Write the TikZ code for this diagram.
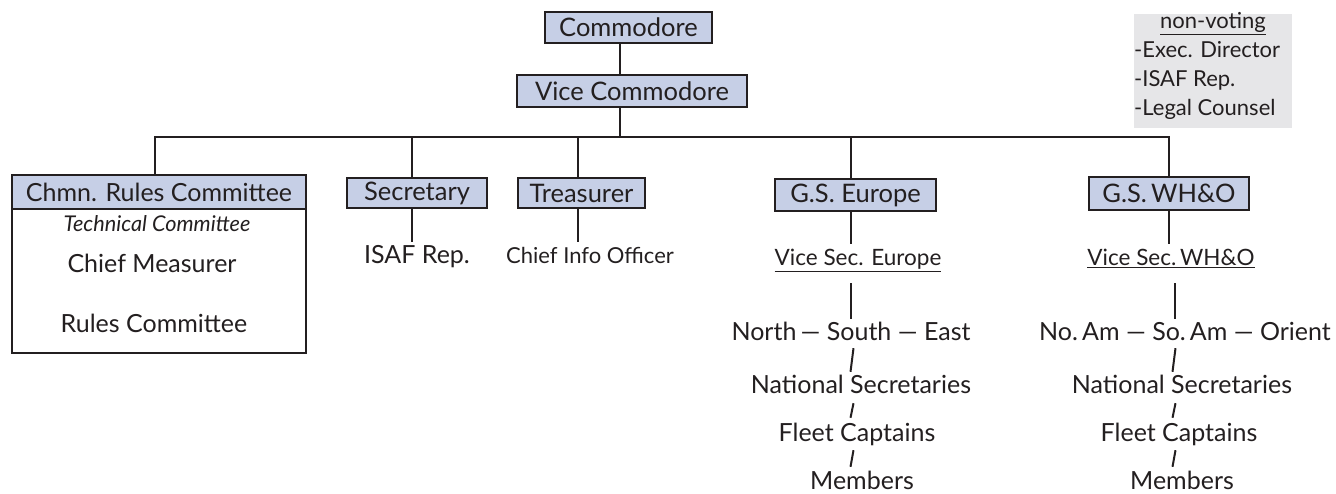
\documentclass[tikz,border=0pt]{standalone}
\usepackage{fontspec}
\setmainfont{Lato}
\usetikzlibrary{calc}
\definecolor{boxblue}{RGB}{198,207,230}
\definecolor{nvgray}{RGB}{230,230,232}
\definecolor{ink}{RGB}{35,31,32}
\tikzset{
  ob/.style={draw=ink, fill=boxblue, line width=2.6pt, inner sep=0pt, text=ink,
    font=\fontsize{25.5}{30}\selectfont},
  txt/.style={inner xsep=1pt, inner ysep=5pt, text height=17pt, text depth=5pt, text=ink,
    font=\fontsize{25}{30}\selectfont},
  nvt/.style={inner sep=0pt, text height=16pt, text depth=5pt, text=ink,
    font=\fontsize{22}{26}\selectfont},
  conn/.style={draw=ink, line width=2.4pt},
  slash/.style={draw=ink, line width=2pt},
}
\begin{document}
\begin{tikzpicture}[x=1pt,y=-1pt]
\useasboundingbox (0,0) rectangle (1336,494);

% non-voting box
\node[fill=nvgray, minimum width=158pt, minimum height=114pt, inner sep=0pt] (nvbox) at (1213,71) {};
\node[nvt] (nv0) at (1213,23) {\underline{non-voting}};
\node[nvt, anchor=west] (nv1) at (1134,52) {-Exec. Director};
\node[nvt, anchor=west] (nv2) at (1134,81) {-ISAF Rep.};
\node[nvt, anchor=west] (nv3) at (1134,110) {-Legal Counsel};

% top boxes
\node[ob, minimum width=167pt, minimum height=31pt] (comm) at (628.5,27.5) {Commodore};
\node[ob, minimum width=230pt, minimum height=32pt] (vice) at (632,91) {Vice Commodore};

\coordinate (cx) at (620,0);
\coordinate (busL) at (155,137);
\coordinate (busR) at (1169,137);
\coordinate (dsec) at (412,137);
\coordinate (dtre) at (578,137);
\coordinate (dgse) at (851,137);

\draw[conn] (comm.south -| cx) -- (vice.north -| cx);
\draw[conn] (vice.south -| cx) -- (cx |- busL);
\draw[conn, line cap=rect] (busL) -- (busR);

% Chairman rules committee
\node[draw=ink, line width=2.6pt, minimum width=294pt, minimum height=178pt, inner sep=0pt] (chout) at (159,264) {};
\node[ob, minimum width=294pt, minimum height=34pt, font=\fontsize{25}{30}\selectfont] (chmn) at (159,192) {Chmn. Rules Committee};
\node[txt, font=\fontsize{21.7}{26}\selectfont\itshape] (tech) at (157,226) {Technical Committee};
\node[txt] (meas) at (152,267) {Chief Measurer};
\node[txt] (rules) at (154,327) {Rules Committee};
\draw[conn] (busL) -- (chmn.north -| busL);

% Secretary
\node[ob, minimum width=140pt, minimum height=30pt] (sec) at (417,193) {Secretary};
\draw[conn] (dsec) -- (sec.north -| dsec);
\node[txt] (isaf) at (417,258) {ISAF Rep.};
\draw[conn] (sec.south -| dsec) -- (isaf.north -| dsec);

% Treasurer
\node[ob, minimum width=127pt, minimum height=30pt] (tre) at (581.5,193) {Treasurer};
\draw[conn] (dtre) -- (tre.north -| dtre);
\node[txt, font=\fontsize{22}{26}\selectfont] (cio) at (590,258) {Chief Info Officer};
\draw[conn] (tre.south -| dtre) -- (cio.north -| dtre);

% G.S. Europe
\node[ob, minimum width=161pt, minimum height=32pt] (gse) at (855.5,195) {G.S. Europe};
\draw[conn] (dgse) -- (gse.north -| dgse);
\node[txt, font=\fontsize{22.5}{27}\selectfont] (vse) at (858,260) {\underline{Vice Sec. Europe}};
\draw[conn] (gse.south -| dgse) -- (vse.north -| dgse);
\node[txt] (erow) at (851,335) {North\,— South — East};
\draw[conn, shorten <=7pt] (vse.south -| dgse) -- (erow.north -| dgse);
\node[txt] (enat) at (861,387) {National Secretaries};
\node[txt] (efleet) at (857,435) {Fleet Captains};
\node[txt] (emem) at (862,483) {Members};
\coordinate (es) at (852,0);
\draw[slash] ($(erow.south -| es)+(1.5,-3)$) -- ($(enat.north -| es)+(-1.5,1)$);
\draw[slash] ($(enat.south -| es)+(1.5,0)$) -- ($(efleet.north -| es)+(-1.5,-1)$);
\draw[slash] ($(efleet.south -| es)+(1.5,-1)$) -- ($(emem.north -| es)+(-1.5,0)$);

% G.S. WH&O
\node[ob, minimum width=160pt, minimum height=33pt] (gsw) at (1169,193.5) {G.S.\,WH\&O};
\draw[conn] (busR) -- (gsw.north -| busR);
\node[txt, font=\fontsize{22.5}{27}\selectfont] (vsw) at (1171,260) {\underline{Vice Sec.\,WH\&O}};
\draw[conn] (gsw.south -| busR) -- (vsw.north -| busR);
\coordinate (wl) at (1175,0);
\node[txt] (wrow) at (1185,335) {No.\,Am — So.\,Am — Orient};
\draw[conn, shorten <=7pt] (vsw.south -| wl) -- (wrow.north -| wl);
\node[txt] (wnat) at (1182,387) {National Secretaries};
\node[txt] (wfleet) at (1179,435) {Fleet Captains};
\node[txt] (wmem) at (1182,483) {Members};
\coordinate (ws) at (1174,0);
\draw[slash] ($(wrow.south -| ws)+(1.5,-3)$) -- ($(wnat.north -| ws)+(-1.5,1)$);
\draw[slash] ($(wnat.south -| ws)+(1.5,0)$) -- ($(wfleet.north -| ws)+(-1.5,-1)$);
\draw[slash] ($(wfleet.south -| ws)+(1.5,-1)$) -- ($(wmem.north -| ws)+(-1.5,0)$);
\end{tikzpicture}
\end{document}
